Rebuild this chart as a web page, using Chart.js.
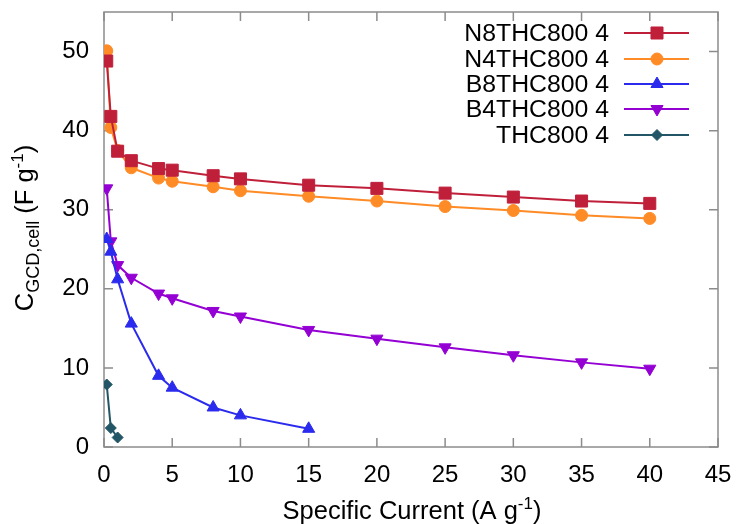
<!DOCTYPE html>
<html>
<head>
<meta charset="utf-8">
<title>GCD specific capacitance vs specific current</title>
<script src="https://cdn.jsdelivr.net/npm/chart.js@4/dist/chart.umd.min.js"></script>
<style>
  html, body { margin: 0; padding: 0; background: #ffffff; }
  #wrap { width: 737px; height: 524px; }
</style>
</head>
<body>
<div id="wrap"><canvas id="c" width="737" height="524"></canvas></div>
<script>
// Specific current (A g-1) for each sample series
const currentN8 = [0.2, 0.5, 1, 2, 4, 5, 8, 10, 15, 20, 25, 30, 35, 40];
const currentN4 = [0.2, 0.5, 1, 2, 4, 5, 8, 10, 15, 20, 25, 30, 35, 40];
const currentB8 = [0.2, 0.5, 1, 2, 4, 5, 8, 10, 15];
const currentB4 = [0.2, 0.5, 1, 2, 4, 5, 8, 10, 15, 20, 25, 30, 35, 40];
const currentTHC = [0.2, 0.5, 1];

// Cell capacitance C_GCD,cell (F g-1)
const capN8 = [48.8, 41.8, 37.4, 36.2, 35.2, 35.0, 34.3, 33.9, 33.1, 32.7, 32.1, 31.6, 31.1, 30.8];
const capN4 = [50.1, 40.4, 37.5, 35.3, 34.0, 33.6, 32.9, 32.4, 31.7, 31.1, 30.4, 29.9, 29.3, 28.9];
const capB8 = [26.3, 24.7, 21.2, 15.6, 9.0, 7.5, 5.0, 4.0, 2.3];
const capB4 = [32.7, 26.0, 23.0, 21.4, 19.4, 18.8, 17.2, 16.5, 14.8, 13.7, 12.6, 11.6, 10.7, 9.9];
const capTHC = [7.9, 2.4, 1.2];

const seriesNames = ['N8THC800 4', 'N4THC800 4', 'B8THC800 4', 'B4THC800 4', 'THC800 4'];

// Axis ticks
const xTicks = [0, 5, 10, 15, 20, 25, 30, 35, 40, 45];
const yTicks = [0, 10, 20, 30, 40, 50];

const FONT = '"Liberation Sans", Arial, Helvetica, sans-serif';

function pts(xs, ys) { return xs.map((x, i) => ({ x: x, y: ys[i] })); }

function series(label, xs, ys, color, style, radius, rotation) {
  return {
    label: label,
    data: pts(xs, ys),
    borderColor: color,
    backgroundColor: color,
    borderWidth: 2,
    pointStyle: style,
    pointRadius: radius,
    pointRotation: rotation || 0,
    pointBorderWidth: 1,
    pointBackgroundColor: color,
    pointBorderColor: color,
    tension: 0,
    showLine: true,
    fill: false
  };
}

const datasets = [
  series(seriesNames[0], currentN8, capN8, '#c01f3a', 'rect', 8.5),
  series(seriesNames[1], currentN4, capN4, '#ff8b26', 'circle', 6),
  series(seriesNames[2], currentB8, capB8, '#2b2bee', 'triangle', 7),
  series(seriesNames[3], currentB4, capB4, '#9400d3', 'triangle', 7, 180),
  series(seriesNames[4], currentTHC, capTHC, '#225566', 'rectRot', 5.5)
];

// Frame with inward tick marks on all four sides
const framePlugin = {
  id: 'frame',
  beforeDatasetsDraw(chart) {
    const { ctx, chartArea: a, scales } = chart;
    const len = 9;
    ctx.save();
    ctx.strokeStyle = '#8c8c8c';
    ctx.lineWidth = 1.5;
    ctx.beginPath();
    scales.x.ticks.forEach(t => {
      const px = scales.x.getPixelForValue(t.value);
      ctx.moveTo(px, a.bottom); ctx.lineTo(px, a.bottom - len);
      ctx.moveTo(px, a.top); ctx.lineTo(px, a.top + len);
    });
    scales.y.ticks.forEach(t => {
      const py = scales.y.getPixelForValue(t.value);
      ctx.moveTo(a.left, py); ctx.lineTo(a.left + len, py);
      ctx.moveTo(a.right, py); ctx.lineTo(a.right - len, py);
    });
    ctx.stroke();
    ctx.strokeRect(a.left, a.top, a.right - a.left, a.bottom - a.top);
    ctx.restore();
  }
};

// Draw a run of text pieces with sub/superscripts, centred on (0,0) of the current transform
function drawRich(ctx, pieces, baseSize) {
  let total = 0;
  pieces.forEach(p => {
    ctx.font = (p.size || baseSize) + 'px ' + FONT;
    p.w = ctx.measureText(p.t).width;
    total += p.w;
  });
  let x = -total / 2;
  pieces.forEach(p => {
    ctx.font = (p.size || baseSize) + 'px ' + FONT;
    ctx.fillText(p.t, x, p.dy || 0);
    x += p.w;
  });
}

const titlesPlugin = {
  id: 'titles',
  afterDraw(chart) {
    const { ctx, chartArea: a } = chart;
    ctx.save();
    ctx.fillStyle = '#000000';
    ctx.textBaseline = 'alphabetic';
    ctx.textAlign = 'left';
    // x-axis title
    ctx.save();
    ctx.translate((a.left + a.right) / 2 + 1, 519);
    drawRich(ctx, [
      { t: 'Specific Current (A g' },
      { t: '-1', size: 17, dy: -10 },
      { t: ')' }
    ], 25.5);
    ctx.restore();
    // y-axis title
    ctx.save();
    ctx.translate(33, 228);
    ctx.rotate(-Math.PI / 2);
    drawRich(ctx, [
      { t: 'C' },
      { t: 'GCD,cell', size: 18, dy: 6 },
      { t: ' (F g' },
      { t: '-1', size: 17, dy: -10 },
      { t: ')' }
    ], 25.5);
    ctx.restore();
    ctx.restore();
  }
};

// Key in the upper right: right-aligned names, then a line sample with its marker
const keyPlugin = {
  id: 'key',
  afterDraw(chart) {
    const { ctx } = chart;
    const rowY = [33, 59, 84, 109, 135];
    ctx.save();
    chart.data.datasets.forEach((ds, i) => {
      const y = rowY[i];
      ctx.fillStyle = '#000000';
      ctx.font = '24.8px ' + FONT;
      ctx.textAlign = 'right';
      ctx.textBaseline = 'middle';
      ctx.fillText(ds.label, 609, y + 1);
      ctx.strokeStyle = ds.borderColor;
      ctx.lineWidth = 2;
      ctx.beginPath();
      ctx.moveTo(624, y); ctx.lineTo(689, y);
      ctx.stroke();
      ctx.fillStyle = ds.pointBackgroundColor;
      ctx.strokeStyle = ds.pointBorderColor;
      ctx.lineWidth = 1;
      Chart.helpers.drawPoint(ctx, {
        pointStyle: ds.pointStyle,
        radius: ds.pointRadius,
        rotation: ds.pointRotation,
        borderWidth: 1
      }, 657, y);
    });
    ctx.restore();
  }
};

new Chart(document.getElementById('c'), {
  type: 'scatter',
  data: { datasets: datasets },
  options: {
    responsive: false,
    animation: false,
    events: [],
    layout: { padding: { left: 0, right: 19, top: 12, bottom: 0 } },
    plugins: { legend: { display: false }, tooltip: { enabled: false } },
    scales: {
      x: {
        type: 'linear',
        min: 0,
        max: 45,
        grid: { display: false, drawTicks: false },
        border: { display: false },
        afterBuildTicks: s => { s.ticks = xTicks.map(v => ({ value: v })); },
        afterFit: s => { s.height = 77; s.paddingLeft = 0; s.paddingRight = 0; },
        ticks: {
          color: '#000000',
          font: { family: FONT, size: 24 },
          padding: 14,
          maxRotation: 0,
          autoSkip: false
        }
      },
      y: {
        type: 'linear',
        min: 0,
        max: 55,
        grid: { display: false, drawTicks: false },
        border: { display: false },
        afterBuildTicks: s => { s.ticks = yTicks.map(v => ({ value: v })); },
        afterFit: s => { s.width = 104; s.paddingTop = 0; s.paddingBottom = 0; },
        ticks: {
          color: '#000000',
          font: { family: FONT, size: 24 },
          padding: 15,
          autoSkip: false
        }
      }
    }
  },
  plugins: [framePlugin, titlesPlugin, keyPlugin]
});
</script>
</body>
</html>
